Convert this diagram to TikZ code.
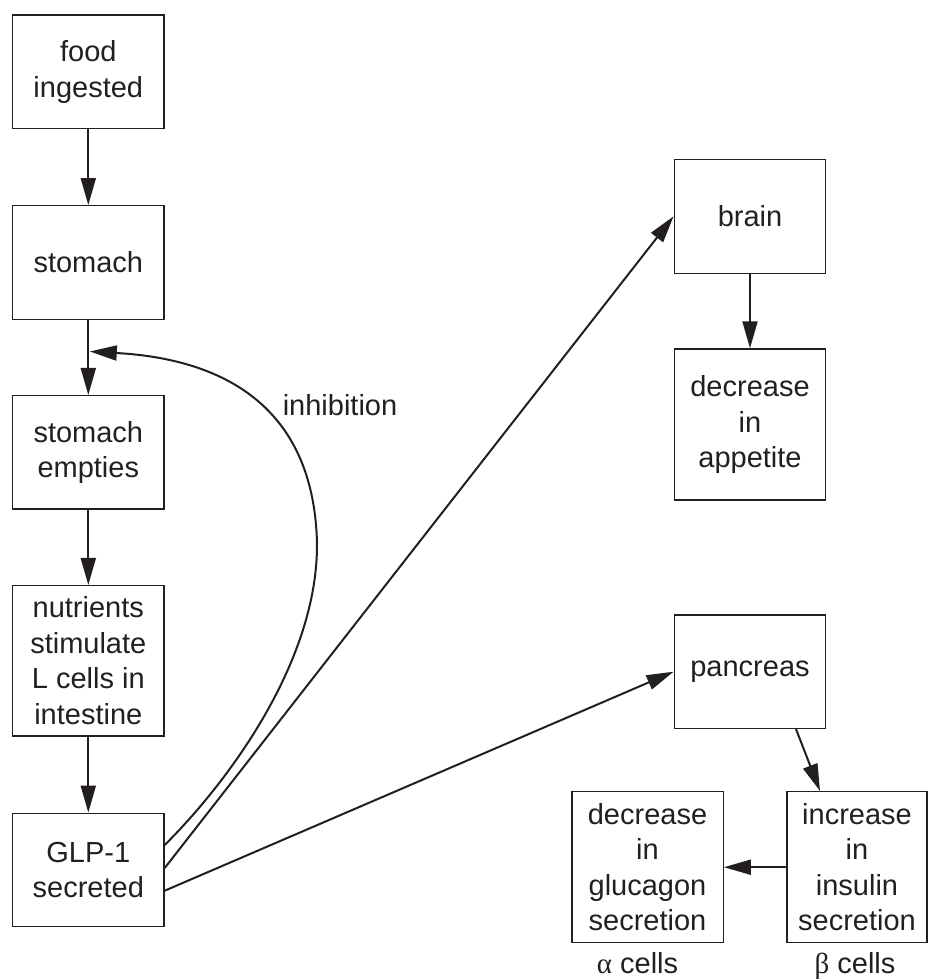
\documentclass[tikz,border=0pt]{standalone}
\usepackage{fontspec}
\setmainfont{Liberation Sans}
\newfontfamily\greekserif{Liberation Serif}
\usetikzlibrary{arrows.meta,calc}
\definecolor{ink}{RGB}{35,31,32}
\begin{document}
\begin{tikzpicture}[x=1pt,y=-1pt,
  box/.style={draw=ink, text=ink, line width=1.4pt, minimum width=151.4pt, inner sep=0pt, align=center, font=\fontsize{29}{35.5}\selectfont},
  flow/.style={draw=ink, line width=2pt, -{Triangle[length=27pt,width=15pt]}},
  lbl/.style={text=ink, font=\fontsize{29}{35.5}\selectfont, inner sep=0pt}]
\useasboundingbox (0,0) rectangle (928,979);
\node[box, minimum height=113.6pt] (food) at (88.3,72) {food\\ingested};
\node[box, minimum height=113.6pt] (stomach) at (88.3,262.5) {stomach};
\node[box, minimum height=113.3pt] (empties) at (88.3,452.3) {stomach\\empties};
\node[box, minimum height=150.3pt] (nutr) at (88.3,660.8) {nutrients\\stimulate\\L cells in\\intestine};
\node[box, minimum height=113.4pt] (glp) at (88.3,870) {GLP-1\\secreted};
\node[box, minimum height=114pt] (brain) at (750,216.3) {brain};
\node[box, minimum height=151pt] (appetite) at (750,424.5) {decrease\\in\\appetite};
\node[box, minimum height=113.3pt] (pancreas) at (750,671.7) {pancreas};
\node[box, minimum height=151pt] (glucagon) at (647.5,867.2) {decrease\\in\\glucagon\\secretion};
\node[box, minimum height=151pt, minimum width=140pt] (insulin) at (857,867.2) {increase\\in\\insulin\\secretion};
\node[lbl, anchor=base] (alpha) at ($(glucagon.south)+(-10,30.3)$) {{\greekserif α} cells};
\node[lbl, anchor=base] (beta) at ($(insulin.south)+(-2,30.3)$) {{\greekserif β} cells};
\node[lbl, anchor=base] (inhl) at (340,415) {inhibition};
\coordinate (inh) at ($(stomach.south)!0.42!(empties.north)+(1.5,0)$);
\draw[flow] (food.south) -- (stomach.north);
\draw[flow] (stomach.south) -- (empties.north);
\draw[flow] (empties.south) -- (nutr.north);
\draw[flow] (nutr.south) -- (glp.north);
\draw[flow] (brain.south) -- (appetite.north);
\draw[flow] ([yshift=25pt]glp.east) .. controls (230,780) and (318,660) .. (317,543) .. controls (314,420) and (240,360) .. (inh);
\draw[flow] ([yshift=2pt]glp.east) -- (brain.west);
\draw[flow] ([yshift=-20.7pt]glp.east) -- (pancreas.west);
\draw[flow] ([xshift=46pt]pancreas.south) -- ([xshift=-37pt]insulin.north);
\draw[flow] (insulin.west) -- (glucagon.east);
\end{tikzpicture}
\end{document}
